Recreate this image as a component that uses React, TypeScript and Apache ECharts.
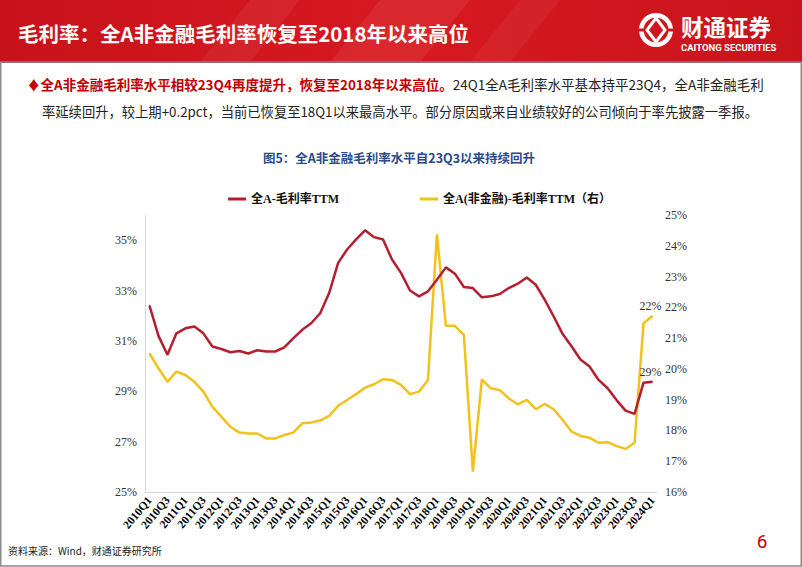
import React, { useEffect, useRef } from 'react';
import * as echarts from 'echarts';

const quarters: string[] = [
  '2010Q1','2010Q2','2010Q3','2010Q4','2011Q1','2011Q2','2011Q3','2011Q4',
  '2012Q1','2012Q2','2012Q3','2012Q4','2013Q1','2013Q2','2013Q3','2013Q4',
  '2014Q1','2014Q2','2014Q3','2014Q4','2015Q1','2015Q2','2015Q3','2015Q4',
  '2016Q1','2016Q2','2016Q3','2016Q4','2017Q1','2017Q2','2017Q3','2017Q4',
  '2018Q1','2018Q2','2018Q3','2018Q4','2019Q1','2019Q2','2019Q3','2019Q4',
  '2020Q1','2020Q2','2020Q3','2020Q4','2021Q1','2021Q2','2021Q3','2021Q4',
  '2022Q1','2022Q2','2022Q3','2022Q4','2023Q1','2023Q2','2023Q3','2023Q4',
  '2024Q1',
];

// 全A-毛利率TTM (left axis, %)
const allAMargin: number[] = [
  32.4, 31.2, 30.45, 31.3, 31.5, 31.57, 31.3, 30.78, 30.68, 30.55,
  30.6, 30.5, 30.63, 30.58, 30.58, 30.74, 31.1, 31.44, 31.7, 32.1,
  32.9, 34.1, 34.63, 35.03, 35.39, 35.12, 35.03, 34.23, 33.7, 33.0,
  32.77, 32.97, 33.43, 33.92, 33.67, 33.14, 33.1, 32.73, 32.77, 32.86,
  33.1, 33.27, 33.52, 33.23, 32.64, 31.97, 31.27, 30.78, 30.25, 29.98,
  29.45, 29.12, 28.65, 28.23, 28.1, 29.34, 29.38,
];

// 全A(非金融)-毛利率TTM (right axis, %)
const nonFinMargin: number[] = [
  20.5, 20.02, 19.58, 19.91, 19.8, 19.58, 19.26, 18.77, 18.45, 18.12,
  17.93, 17.9, 17.9, 17.74, 17.74, 17.85, 17.93, 18.23, 18.26, 18.32,
  18.47, 18.8, 18.99, 19.18, 19.39, 19.5, 19.66, 19.64, 19.48, 19.18,
  19.26, 19.64, 24.37, 21.4, 21.4, 21.1, 16.66, 19.66, 19.37, 19.31,
  19.04, 18.85, 18.99, 18.69, 18.86, 18.69, 18.34, 17.96, 17.82, 17.76,
  17.6, 17.62, 17.49, 17.4, 17.6, 21.48, 21.72,
];

const seriesNames = ['全A-毛利率TTM', '全A(非金融)-毛利率TTM（右）'];

const SERIF = "'Liberation Serif','Noto Sans CJK SC',serif";
const SANS = "'Noto Sans CJK SC','Noto Sans',sans-serif";
const RED_LINE = '#B41F30';
const YELLOW_LINE = '#F0C21B';

export default function App() {
  const ref = useRef<HTMLDivElement>(null);

  useEffect(() => {
    if (!ref.current) return;
    const chart = echarts.init(ref.current, undefined, { renderer: 'svg' });

    const lastLabel = {
      show: true,
      position: 'top' as const,
      distance: 3,
      offset: [-2, 0],
      fontFamily: SERIF,
      fontSize: 12,
      color: '#333',
      formatter: (p: any) => Math.round(p.value) + '%',
    };

    const mk = (arr: number[]) =>
      arr.map((v, i) => (i === arr.length - 1 ? { value: v, label: lastLabel } : v));

    const legendText = { fontFamily: SERIF, fontSize: 12, fontWeight: 'bold', color: '#111' };

    const option: any = {
      animation: false,
      backgroundColor: '#fff',
      grid: { left: 145, right: 145, top: 215, bottom: 75 },
      legend: [
        {
          data: [seriesNames[0]],
          left: 228,
          top: 193,
          padding: 0,
          icon: 'rect',
          itemWidth: 18,
          itemHeight: 3,
          textStyle: legendText,
        },
        {
          data: [seriesNames[1]],
          left: 420,
          top: 193,
          padding: 0,
          icon: 'rect',
          itemWidth: 18,
          itemHeight: 3,
          textStyle: legendText,
        },
      ],
      xAxis: {
        type: 'category',
        data: quarters,
        boundaryGap: true,
        axisLine: { lineStyle: { color: '#D9D9D9', width: 1 } },
        axisTick: { show: false },
        axisLabel: {
          interval: 1,
          rotate: 50,
          fontFamily: SERIF,
          fontSize: 11.5,
          fontWeight: 'bold',
          color: '#000',
          margin: 6,
        },
        splitLine: { show: false },
      },
      yAxis: [
        {
          type: 'value',
          min: 25,
          max: 36,
          interval: 1,
          axisLine: { show: true, lineStyle: { color: '#D9D9D9' } },
          axisTick: { show: false },
          splitLine: { show: false },
          axisLabel: {
            fontFamily: SERIF,
            fontSize: 12,
            color: '#333',
            margin: 8,
            formatter: (v: number) => ((v - 25) % 2 === 0 && v < 36 ? v + '%' : ''),
          },
        },
        {
          type: 'value',
          min: 16,
          max: 25,
          interval: 1,
          axisLine: { show: false },
          axisTick: { show: false },
          splitLine: { show: false },
          axisLabel: {
            fontFamily: SERIF,
            fontSize: 12,
            color: '#333',
            margin: 8,
            formatter: '{value}%',
          },
        },
      ],
      series: [
        {
          name: seriesNames[0],
          type: 'line',
          yAxisIndex: 0,
          data: mk(allAMargin),
          showSymbol: true,
          symbol: 'circle',
          symbolSize: 1,
          lineStyle: { color: RED_LINE, width: 2.5 },
          itemStyle: { color: RED_LINE },
          z: 3,
        },
        {
          name: seriesNames[1],
          type: 'line',
          yAxisIndex: 1,
          data: mk(nonFinMargin),
          showSymbol: true,
          symbol: 'circle',
          symbolSize: 1,
          lineStyle: { color: YELLOW_LINE, width: 2.5 },
          itemStyle: { color: YELLOW_LINE },
          z: 2,
        },
      ],
      graphic: [
        // header band
        {
          type: 'rect',
          shape: { x: 0, y: 0, width: 802, height: 62 },
          style: {
            fill: new echarts.graphic.LinearGradient(0, 0, 1, 0, [
              { offset: 0, color: '#C8121B' },
              { offset: 0.5, color: '#D71920' },
              { offset: 1, color: '#C9141C' },
            ]),
          },
          z: 0,
        },
        { type: 'polygon', shape: { points: [[250, 0], [300, 0], [250, 62], [200, 62]] }, style: { fill: 'rgba(255,255,255,0.06)' } },
        { type: 'polygon', shape: { points: [[380, 0], [470, 0], [420, 62], [330, 62]] }, style: { fill: 'rgba(255,255,255,0.07)' } },
        { type: 'polygon', shape: { points: [[520, 0], [560, 0], [510, 62], [470, 62]] }, style: { fill: 'rgba(255,255,255,0.05)' } },
        { type: 'rect', shape: { x: 0, y: 61, width: 802, height: 2 }, style: { fill: '#A50F16' } },
        {
          type: 'text',
          style: {
            text: '毛利率：全A非金融毛利率恢复至2018年以来高位',
            x: 18,
            y: 33,
            verticalAlign: 'middle',
            fontFamily: SANS,
            fontSize: 20.5,
            fontWeight: 'bold',
            fill: '#fff',
          },
        },
        // logo
        { type: 'ring', shape: { cx: 656, cy: 30, r: 17, r0: 12.5 }, style: { fill: '#fff' } },
        { type: 'rect', shape: { x: 636, y: 28.5, width: 40, height: 3 }, style: { fill: '#D2161E' } },
        {
          type: 'polygon',
          shape: { points: [[656, 18], [665, 30], [656, 42], [647, 30]] },
          style: { fill: 'none', stroke: '#fff', lineWidth: 3 },
        },
        {
          type: 'text',
          style: {
            text: '财通证券',
            x: 681,
            y: 26,
            verticalAlign: 'middle',
            fontFamily: SANS,
            fontSize: 22.5,
            fontWeight: 'bold',
            fill: '#fff',
          },
        },
        {
          type: 'text',
          style: {
            text: 'CAITONG SECURITIES',
            x: 681,
            y: 47,
            verticalAlign: 'middle',
            fontFamily: "'Roboto','Liberation Sans',sans-serif",
            fontSize: 9.5,
            fontWeight: 'bold',
            fill: '#fff',
          },
        },
        // paragraph
        {
          type: 'text',
          style: {
            text: '{r|♦全A非金融毛利率水平相较23Q4再度提升，恢复至2018年以来高位。}{n|24Q1全A毛利率水平基本持平23Q4，全A非金融毛利}',
            x: 27,
            y: 84,
            verticalAlign: 'middle',
            rich: {
              r: { fontFamily: SANS, fontSize: 13.5, fontWeight: 'bold', fill: '#C00000' },
              n: { fontFamily: SANS, fontSize: 13.5, fill: '#222' },
            },
          },
        },
        {
          type: 'text',
          style: {
            text: '率延续回升，较上期+0.2pct，当前已恢复至18Q1以来最高水平。部分原因或来自业绩较好的公司倾向于率先披露一季报。',
            x: 42,
            y: 111,
            verticalAlign: 'middle',
            fontFamily: SANS,
            fontSize: 13.3,
            fill: '#222',
          },
        },
        // chart title
        {
          type: 'text',
          style: {
            text: '图5：全A非金融毛利率水平自23Q3以来持续回升',
            x: 399,
            y: 157,
            align: 'center',
            verticalAlign: 'middle',
            fontFamily: SANS,
            fontSize: 12.5,
            fontWeight: 'bold',
            fill: '#2B4A8B',
          },
        },
        // footer
        {
          type: 'text',
          style: {
            text: '资料来源：Wind，财通证券研究所',
            x: 8,
            y: 550,
            verticalAlign: 'middle',
            fontFamily: SANS,
            fontSize: 10,
            fill: '#222',
          },
        },
        {
          type: 'text',
          style: {
            text: '6',
            x: 762,
            y: 541,
            align: 'center',
            verticalAlign: 'middle',
            fontFamily: "'Roboto','Liberation Sans',sans-serif",
            fontSize: 19,
            fill: '#C00000',
          },
        },
        // page border
        {
          type: 'rect',
          shape: { x: 0.75, y: 62, width: 800.5, height: 504 },
          style: { fill: 'none', stroke: '#8C8C8C', lineWidth: 1.5 },
        },
      ],
    };

    chart.setOption(option);
    return () => chart.dispose();
  }, []);

  return (
    <div
      ref={ref}
      style={{ position: 'fixed', left: 0, top: 0, width: 802, height: 567, background: '#fff' }}
    />
  );
}
